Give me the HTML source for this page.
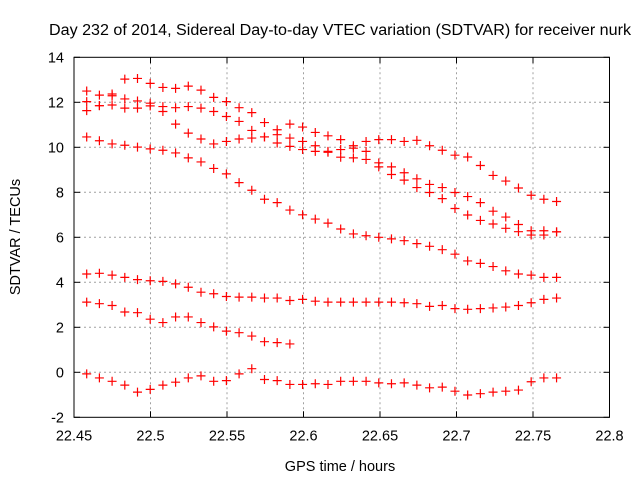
<!DOCTYPE html>
<html><head><meta charset="utf-8"><style>
body{margin:0;background:#fff}
svg{display:block;font-family:"Liberation Sans",sans-serif}
</style></head><body>
<svg id="chart" width="640" height="480" viewBox="0 0 640 480">
<rect width="640" height="480" fill="#fff"/>
<text x="340" y="35" font-size="15.5" text-anchor="middle" textLength="582" lengthAdjust="spacingAndGlyphs">Day 232 of 2014, Sidereal Day-to-day VTEC variation (SDTVAR) for receiver nurk</text>
<text x="340" y="471" font-size="14.5" text-anchor="middle">GPS time / hours</text>
<text x="0" y="0" font-size="14.5" text-anchor="middle" transform="translate(20,237) rotate(-90)">SDTVAR / TECUs</text>
<g id="grid"></g><g id="ticks"></g><g id="marks"></g>
<rect x="74" y="57.3" width="535.5" height="360" fill="none" stroke="#000" stroke-width="1"/>
</svg>
<script>
const xTicks=[22.45,22.5,22.55,22.6,22.65,22.7,22.75,22.8];
const xTickLabels=["22.45","22.5","22.55","22.6","22.65","22.7","22.75","22.8"];
const yTicks=[-2,0,2,4,6,8,10,12,14];
const yTickLabels=["-2","0","2","4","6","8","10","12","14"];
const t0=22.4583, dt=0.0083;
const track1=[12.50,12.32,12.37,13.03,13.06,12.84,12.66,12.62,12.72,12.54,12.22,12.03,11.76,11.54,11.10,10.78,11.03,10.90,10.66,10.51,10.34,10.07,10.26,10.34,10.34,10.26,10.31,10.07,9.87,9.65,9.57,9.19,8.75,8.50,8.19,7.87,7.69,7.59];
const track2=[12.03,11.85,12.29,12.15,12.06,11.96,11.81,11.76,11.81,11.74,11.59,11.37,11.15,10.75,10.46,10.19,10.04,9.90,9.82,9.78,9.56,9.53,9.46,9.13,8.79,8.54,8.21,7.99,7.72,7.28,6.99,6.75,6.59,6.40,6.25,6.10,6.10,6.24];
const track3=[11.63,11.85,11.88,11.74,11.74,11.84,11.59,11.03,10.63,10.37,10.15,10.26,10.37,10.41,10.46,10.56,10.41,10.26,10.07,9.82,9.90,9.96,9.82,9.31,9.13,8.87,8.60,8.35,8.21,7.99,7.81,7.54,7.16,6.90,6.57,6.29,6.29,6.24];
const track4=[10.46,10.29,10.15,10.09,10.01,9.93,9.87,9.75,9.53,9.35,9.06,8.82,8.43,8.09,7.69,7.54,7.21,7.00,6.81,6.63,6.37,6.15,6.07,6.00,5.93,5.85,5.72,5.60,5.45,5.25,4.95,4.84,4.70,4.51,4.37,4.32,4.22,4.22];
const track5=[4.37,4.40,4.32,4.22,4.12,4.07,4.04,3.93,3.78,3.56,3.49,3.37,3.34,3.34,3.30,3.30,3.19,3.24,3.16,3.12,3.12,3.12,3.12,3.12,3.12,3.09,3.05,2.93,2.97,2.83,2.80,2.83,2.86,2.90,2.97,3.09,3.24,3.30];
const track6=[3.12,3.05,2.97,2.68,2.65,2.36,2.21,2.46,2.46,2.21,2.02,1.83,1.76,1.61,1.36,1.32,1.26];
const track7=[-0.07,-0.25,-0.40,-0.57,-0.88,-0.76,-0.57,-0.44,-0.25,-0.16,-0.40,-0.37,-0.07,0.16,-0.32,-0.37,-0.54,-0.54,-0.51,-0.54,-0.40,-0.40,-0.40,-0.47,-0.51,-0.47,-0.57,-0.69,-0.66,-0.84,-1.01,-0.95,-0.88,-0.84,-0.79,-0.42,-0.25,-0.25];
const tracks=[track1,track2,track3,track4,track5,track6,track7];
const X0=74,X1=609.5,Y0=417.3,Y1=57.3;
function xs(v){return X0+(v-22.45)/(22.8-22.45)*(X1-X0);}
function ys(v){return Y0-(v+2)/16*(Y0-Y1);}
const NS="http://www.w3.org/2000/svg";
function mk(tag,attrs,parent){const e=document.createElementNS(NS,tag);for(const k in attrs)e.setAttribute(k,attrs[k]);parent.appendChild(e);return e;}
const grid=document.getElementById('grid'),ticks=document.getElementById('ticks'),marks=document.getElementById('marks');
xTicks.forEach((v,i)=>{
  const x=xs(v);
  if(i>0&&i<xTicks.length-1){
    const g=mk('line',{x1:x,x2:x,y1:Y1,y2:Y0,stroke:'#a0a0a0','stroke-dasharray':'2,3'},grid);
    
    
  }
  mk('line',{x1:x,x2:x,y1:Y0,y2:Y0-6,stroke:'#000'},ticks);
  mk('line',{x1:x,x2:x,y1:Y1,y2:Y1+6,stroke:'#000'},ticks);
  const t=mk('text',{x:x,y:Y0+23,'font-size':14.5,'text-anchor':'middle'},ticks);
  t.textContent=xTickLabels[i];
  
  
});
yTicks.forEach((v,i)=>{
  const y=ys(v);
  if(i>0&&i<yTicks.length-1){
    const g=mk('line',{x1:X0,x2:X1,y1:y,y2:y,stroke:'#a0a0a0','stroke-dasharray':'2,3'},grid);
    
    
  }
  mk('line',{x1:X0,x2:X0+6,y1:y,y2:y,stroke:'#000'},ticks);
  mk('line',{x1:X1,x2:X1-6,y1:y,y2:y,stroke:'#000'},ticks);
  const t=mk('text',{x:X0-10,y:y+5,'font-size':14.5,'text-anchor':'end'},ticks);
  t.textContent=yTickLabels[i];
  
  
});
tracks.forEach((tr,k)=>{
  tr.forEach((v,i)=>{
    const x=xs(t0+i*dt),y=ys(v);
    const p=mk('path',{d:`M${x-4.5},${y}H${x+4.5}M${x},${y-4.5}V${y+4.5}`,stroke:'#ff0000','stroke-width':1.2,fill:'none'},marks);
    
    
  });
});
</script>
</body></html>
